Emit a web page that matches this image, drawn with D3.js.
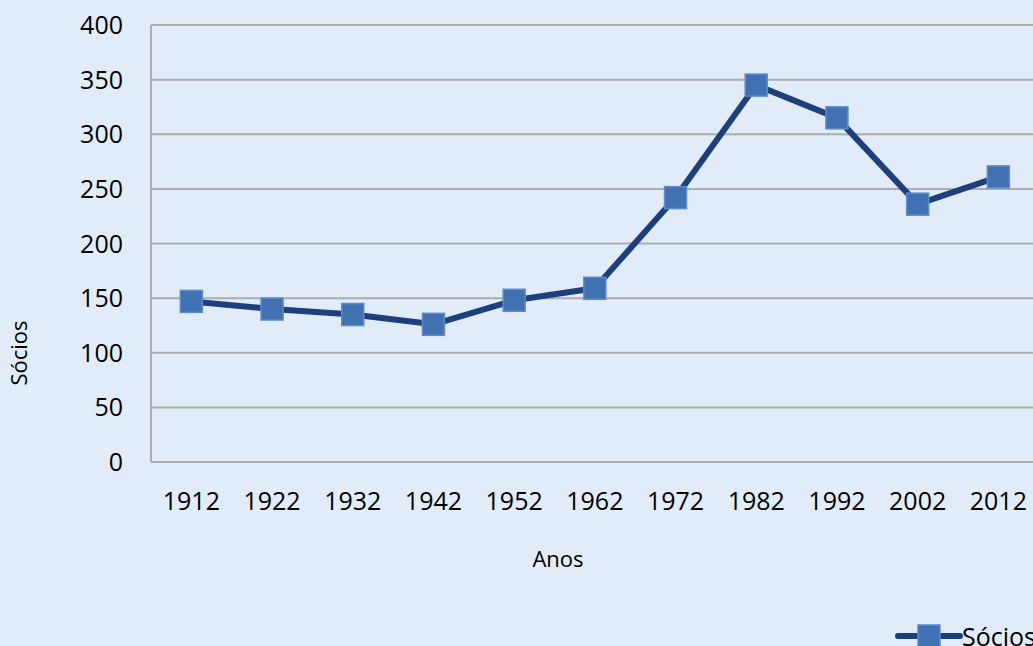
<!DOCTYPE html>
<html>
<head>
<meta charset="utf-8">
<script src="https://cdn.jsdelivr.net/npm/d3@7"></script>
<style>
  body { margin: 0; background: #e1ecf8; overflow: hidden; }
  text { font-family: "Open Sans", "Noto Sans", sans-serif; fill: #000; }
</style>
</head>
<body>
<div id="chart"></div>
<script>
var w = 1033;
var h = 646;

var anos = ['1912', '1922', '1932', '1942', '1952', '1962', '1972', '1982', '1992', '2002', '2012'];
var socios = [147, 140, 135, 126, 148, 159, 242, 345, 315, 236, 261];
var yTicks = [0, 50, 100, 150, 200, 250, 300, 350, 400];

var margin = { left: 151, top: 25, bottom: 462 };
var plotRight = 151 + 80.7 * anos.length;

var svg = d3.select('#chart')
  .append('svg')
  .attr('width', w)
  .attr('height', h);

svg.append('rect')
  .attr('width', w)
  .attr('height', h)
  .attr('fill', '#e1ecf8');

var x = d3.scaleBand()
  .domain(anos)
  .range([margin.left, plotRight]);

var y = d3.scaleLinear()
  .domain([0, 400])
  .range([margin.bottom, margin.top]);

// gridlines
svg.selectAll('line.grid')
  .data(yTicks)
  .enter()
  .append('line')
  .attr('class', 'grid')
  .attr('x1', margin.left)
  .attr('x2', plotRight)
  .attr('y1', function (d) { return y(d); })
  .attr('y2', function (d) { return y(d); })
  .attr('stroke', '#a9adb2')
  .attr('stroke-width', 2);

// left axis line
svg.append('line')
  .attr('x1', margin.left)
  .attr('x2', margin.left)
  .attr('y1', margin.top)
  .attr('y2', margin.bottom)
  .attr('stroke', '#a9adb2')
  .attr('stroke-width', 2);

// y labels
svg.selectAll('text.ylab')
  .data(yTicks)
  .enter()
  .append('text')
  .attr('class', 'ylab')
  .attr('x', 123)
  .attr('y', function (d) { return y(d) + 9; })
  .attr('text-anchor', 'end')
  .style('font-size', '25px')
  .text(function (d) { return d; });

// x labels
svg.selectAll('text.xlab')
  .data(anos)
  .enter()
  .append('text')
  .attr('class', 'xlab')
  .attr('x', function (d) { return x(d) + x.bandwidth() / 2; })
  .attr('y', 510)
  .attr('text-anchor', 'middle')
  .style('font-size', '25px')
  .text(function (d) { return d; });

svg.append('text')
  .attr('x', 558)
  .attr('y', 567)
  .attr('text-anchor', 'middle')
  .style('font-size', '22px')
  .text('Anos');

svg.append('text')
  .attr('transform', 'translate(27, 353) rotate(-90)')
  .attr('text-anchor', 'middle')
  .style('font-size', '22px')
  .text('Sócios');

var line = d3.line()
  .x(function (d, i) { return x(anos[i]) + x.bandwidth() / 2; })
  .y(function (d) { return y(d); });

svg.append('path')
  .datum(socios)
  .attr('d', line)
  .attr('fill', 'none')
  .attr('stroke', '#1d3f7c')
  .attr('stroke-width', 6)
  .attr('stroke-linejoin', 'round');

var ms = 22;
svg.selectAll('rect.marker')
  .data(socios)
  .enter()
  .append('rect')
  .attr('class', 'marker')
  .attr('x', function (d, i) { return x(anos[i]) + x.bandwidth() / 2 - ms / 2; })
  .attr('y', function (d) { return y(d) - ms / 2; })
  .attr('width', ms)
  .attr('height', ms)
  .attr('fill', '#4071b3')
  .attr('stroke', '#5d8ccc')
  .attr('stroke-width', 1.5);

// legend
svg.append('line')
  .attr('x1', 898)
  .attr('x2', 960)
  .attr('y1', 636)
  .attr('y2', 636)
  .attr('stroke', '#1d3f7c')
  .attr('stroke-width', 6)
  .attr('stroke-linecap', 'round');

svg.append('rect')
  .attr('x', 929 - ms / 2)
  .attr('y', 636 - ms / 2)
  .attr('width', ms)
  .attr('height', ms)
  .attr('fill', '#4071b3')
  .attr('stroke', '#5d8ccc')
  .attr('stroke-width', 1.5);

svg.append('text')
  .attr('x', 962)
  .attr('y', 646)
  .style('font-size', '25px')
  .text('Sócios');
</script>
</body>
</html>
